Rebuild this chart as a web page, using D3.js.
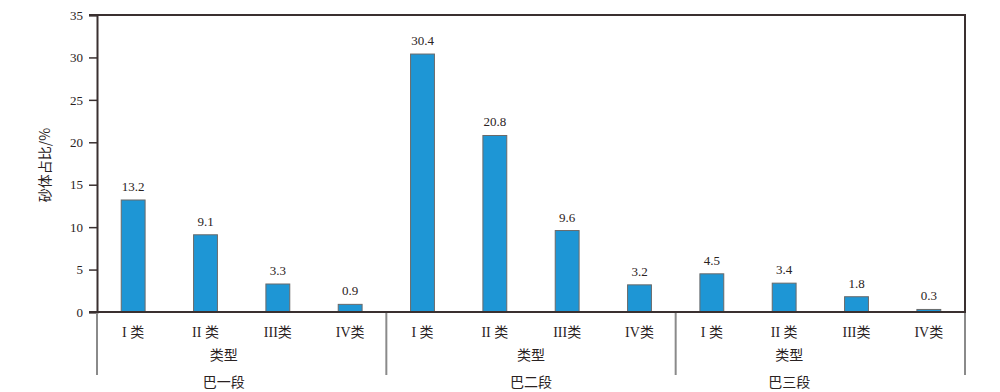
<!DOCTYPE html>
<html>
<head>
<meta charset="utf-8">
<script src="https://cdn.jsdelivr.net/npm/d3@7"></script>
<style>
  body { margin: 0; background: #fff; }
  svg { display: block; }
  text { fill: #2a2222; }
</style>
</head>
<body>
<div id="chart"></div>
<script>
// data
var groups = ['巴一段', '巴二段', '巴三段'];
var categories = ['I 类', 'II 类', 'III类', 'IV类'];
var values = [
  [13.2, 9.1, 3.3, 0.9],
  [30.4, 20.8, 9.6, 3.2],
  [4.5, 3.4, 1.8, 0.3]
];
var yTicks = [0, 5, 10, 15, 20, 25, 30, 35];
var axisTitle = '砂体占比/%';
var subTitle = '类型';

// layout
var W = 1000, H = 392;
var plotL = 97, plotR = 965, plotT = 15, plotB = 312;
var groupLabelShift = [-18, 0, -31];
var fontFam = '"Liberation Serif", "Noto Sans CJK SC", serif';
var cjkFam = '"Noto Sans CJK SC", sans-serif';

var svg = d3.select('#chart').append('svg')
    .attr('width', W)
    .attr('height', H);

var y = d3.scaleLinear().domain([0, 35]).range([plotB, plotT]);
var xg = d3.scaleBand().domain(groups).range([plotL, plotR]).padding(0);
var xc = d3.scaleBand().domain(categories).range([0, xg.bandwidth()]).padding(0);
var barW = xc.bandwidth() * 0.33;

// y axis
var yAxis = svg.append('g')
    .attr('transform', 'translate(' + plotL + ',0)')
    .call(d3.axisLeft(y).tickValues(yTicks).tickSize(8).tickPadding(6));
yAxis.select('.domain').attr('stroke', '#3a3030').attr('stroke-width', 2);
yAxis.selectAll('.tick line').attr('stroke', '#3a3030').attr('stroke-width', 1.5);
yAxis.selectAll('.tick text')
    .attr('font-family', fontFam)
    .attr('font-size', 13)
    .attr('fill', '#2a2222');

// frame top & right
svg.append('line').attr('x1', plotL - 8).attr('x2', plotR + 1)
    .attr('y1', plotT).attr('y2', plotT)
    .attr('stroke', '#3a3030').attr('stroke-width', 2);
svg.append('line').attr('x1', plotR).attr('x2', plotR)
    .attr('y1', plotT).attr('y2', plotB)
    .attr('stroke', '#3a3030').attr('stroke-width', 2);

// group separators
var seps = groups.map(function(g) { return xg(g); }).concat([plotR]);
svg.selectAll('.sep').data(seps).enter().append('line')
    .attr('class', 'sep')
    .attr('x1', function(d) { return d; })
    .attr('x2', function(d) { return d; })
    .attr('y1', plotB)
    .attr('y2', 375)
    .attr('stroke', '#8a8a8a')
    .attr('stroke-width', 2);

// bars
var flat = [];
groups.forEach(function(g, gi) {
  categories.forEach(function(c, ci) {
    flat.push({group: g, gi: gi, cat: c, value: values[gi][ci]});
  });
});

svg.selectAll('.bar').data(flat).enter().append('rect')
    .attr('class', 'bar')
    .attr('x', function(d) { return xg(d.group) + xc(d.cat) + xc.bandwidth() / 2 - barW / 2; })
    .attr('y', function(d) { return y(d.value); })
    .attr('width', barW)
    .attr('height', function(d) { return plotB - y(d.value); })
    .attr('fill', '#1e96d5')
    .attr('stroke', '#6a6a6a')
    .attr('stroke-width', 1);

svg.selectAll('.val').data(flat).enter().append('text')
    .attr('class', 'val')
    .attr('x', function(d) { return xg(d.group) + xc(d.cat) + xc.bandwidth() / 2; })
    .attr('y', function(d) { return y(d.value) - 9; })
    .attr('text-anchor', 'middle')
    .attr('font-family', fontFam)
    .attr('font-size', 13)
    .text(function(d) { return d.value.toFixed(1); });

// bottom axis line
svg.append('line').attr('x1', plotL - 8).attr('x2', plotR + 1)
    .attr('y1', plotB).attr('y2', plotB)
    .attr('stroke', '#3a3030').attr('stroke-width', 2);

// category labels
svg.selectAll('.cat').data(flat).enter().append('text')
    .attr('class', 'cat')
    .attr('x', function(d) { return xg(d.group) + xc(d.cat) + xc.bandwidth() / 2; })
    .attr('y', 337)
    .attr('text-anchor', 'middle')
    .attr('font-family', fontFam)
    .attr('font-size', 14)
    .text(function(d) { return d.cat; });

// sub-title and group labels
svg.selectAll('.sub').data(groups).enter().append('text')
    .attr('class', 'sub')
    .attr('x', function(d, i) { return xg(d) + xg.bandwidth() / 2 + groupLabelShift[i]; })
    .attr('y', 360)
    .attr('text-anchor', 'middle')
    .attr('font-family', cjkFam)
    .attr('font-size', 14)
    .text(subTitle);

svg.selectAll('.grp').data(groups).enter().append('text')
    .attr('class', 'grp')
    .attr('x', function(d, i) { return xg(d) + xg.bandwidth() / 2 + groupLabelShift[i]; })
    .attr('y', 387)
    .attr('text-anchor', 'middle')
    .attr('font-family', cjkFam)
    .attr('font-size', 14)
    .text(function(d) { return d; });

// y title
svg.append('text')
    .attr('transform', 'translate(50,' + 165 + ') rotate(-90)')
    .attr('text-anchor', 'middle')
    .attr('font-family', cjkFam)
    .attr('font-size', 14)
    .text(axisTitle);
</script>
</body>
</html>
